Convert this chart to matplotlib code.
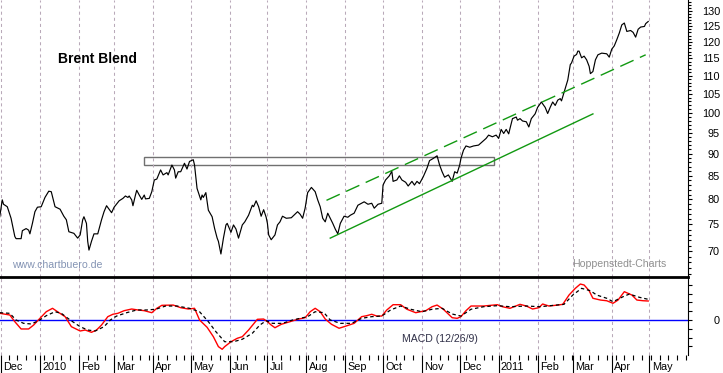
import pandas as pd
import matplotlib
matplotlib.use("Agg")
import matplotlib.pyplot as plt
import matplotlib.dates as mdates
from matplotlib.patches import Rectangle
from matplotlib.ticker import FixedLocator, NullFormatter, FuncFormatter
from matplotlib.transforms import ScaledTranslation

plt.rcParams['font.family'] = ['Liberation Sans', 'DejaVu Sans']
plt.rcParams['lines.scale_dashes'] = False

# Brent price
price_dates = [
    "2009-11-30", "2009-12-02", "2009-12-03", "2009-12-06", "2009-12-09", "2009-12-12", "2009-12-13",
    "2009-12-17", "2009-12-18", "2009-12-21", "2009-12-23", "2009-12-24", "2009-12-26", "2009-12-28",
    "2009-12-30", "2010-01-02", "2010-01-05", "2010-01-08", "2010-01-10", "2010-01-13", "2010-01-17",
    "2010-01-20", "2010-01-22", "2010-01-24", "2010-01-28", "2010-01-31", "2010-02-02", "2010-02-04",
    "2010-02-05", "2010-02-07", "2010-02-08", "2010-02-09", "2010-02-11", "2010-02-13", "2010-02-16",
    "2010-02-19", "2010-02-21", "2010-02-23", "2010-02-25", "2010-02-27", "2010-03-01", "2010-03-05",
    "2010-03-08", "2010-03-10", "2010-03-12", "2010-03-13", "2010-03-15", "2010-03-16", "2010-03-18",
    "2010-03-19", "2010-03-21", "2010-03-23", "2010-03-25", "2010-03-26", "2010-03-29", "2010-03-31",
    "2010-04-02", "2010-04-04", "2010-04-07", "2010-04-09", "2010-04-12", "2010-04-13", "2010-04-16",
    "2010-04-18", "2010-04-19", "2010-04-21", "2010-04-23", "2010-04-26", "2010-04-28", "2010-04-30",
    "2010-05-03", "2010-05-04", "2010-05-06", "2010-05-09", "2010-05-10", "2010-05-11", "2010-05-13",
    "2010-05-15", "2010-05-18", "2010-05-20", "2010-05-22", "2010-05-23", "2010-05-25", "2010-05-27",
    "2010-05-29", "2010-05-30", "2010-06-02", "2010-06-04", "2010-06-06", "2010-06-08", "2010-06-11",
    "2010-06-13", "2010-06-16", "2010-06-19", "2010-06-20", "2010-06-22", "2010-06-24", "2010-06-26",
    "2010-06-28", "2010-06-30", "2010-07-01", "2010-07-02", "2010-07-04", "2010-07-07", "2010-07-09",
    "2010-07-11", "2010-07-13", "2010-07-16", "2010-07-20", "2010-07-23", "2010-07-25", "2010-07-27",
    "2010-07-29", "2010-07-31", "2010-08-02", "2010-08-05", "2010-08-08", "2010-08-10", "2010-08-12",
    "2010-08-14", "2010-08-16", "2010-08-18", "2010-08-20", "2010-08-22", "2010-08-24", "2010-08-26",
    "2010-08-28", "2010-08-31", "2010-09-03", "2010-09-05", "2010-09-08", "2010-09-11", "2010-09-16",
    "2010-09-19", "2010-09-22", "2010-09-24", "2010-09-27", "2010-09-30", "2010-10-01", "2010-10-03",
    "2010-10-06", "2010-10-08", "2010-10-09", "2010-10-12", "2010-10-14", "2010-10-16", "2010-10-19",
    "2010-10-21", "2010-10-24", "2010-10-26", "2010-10-28", "2010-10-30", "2010-11-02", "2010-11-05",
    "2010-11-07", "2010-11-10", "2010-11-13", "2010-11-15", "2010-11-17", "2010-11-19", "2010-11-22",
    "2010-11-25", "2010-11-27", "2010-11-29", "2010-12-01", "2010-12-02", "2010-12-04", "2010-12-06",
    "2010-12-09", "2010-12-12", "2010-12-16", "2010-12-19", "2010-12-22", "2010-12-24", "2010-12-27",
    "2010-12-30", "2011-01-01", "2011-01-03", "2011-01-05", "2011-01-07", "2011-01-09", "2011-01-10",
    "2011-01-12", "2011-01-15", "2011-01-16", "2011-01-18", "2011-01-20", "2011-01-23", "2011-01-25",
    "2011-01-27", "2011-01-30", "2011-02-01", "2011-02-04", "2011-02-07", "2011-02-09", "2011-02-11",
    "2011-02-13", "2011-02-15", "2011-02-17", "2011-02-19", "2011-02-20", "2011-02-21", "2011-02-23",
    "2011-02-25", "2011-02-27", "2011-02-28", "2011-03-02", "2011-03-04", "2011-03-05", "2011-03-06",
    "2011-03-08", "2011-03-10", "2011-03-12", "2011-03-14", "2011-03-15", "2011-03-17", "2011-03-19",
    "2011-03-21", "2011-03-24", "2011-03-28", "2011-03-30", "2011-04-01", "2011-04-03", "2011-04-05",
    "2011-04-07", "2011-04-09", "2011-04-11", "2011-04-13", "2011-04-16", "2011-04-18", "2011-04-20",
    "2011-04-22", "2011-04-24", "2011-04-27", "2011-04-28", "2011-04-30",
]
price_values = [
    76.5, 79.9, 79.0, 78.5, 76.2, 72.7, 72.3,
    72.3, 73.8, 74.2, 73.9, 73.2, 75.2, 77.5,
    78.4, 78.5, 80.4, 81.7, 81.6, 78.5, 78.0,
    76.6, 75.9, 73.6, 73.3, 72.4, 73.0, 75.9,
    76.5, 75.2, 71.8, 70.2, 71.8, 73.2, 73.2,
    75.9, 77.5, 78.7, 78.0, 77.3, 78.4, 79.7,
    80.2, 80.7, 80.4, 80.7, 79.9, 78.7, 80.9,
    81.9, 80.9, 80.0, 80.9, 80.1, 80.2, 81.6,
    84.1, 84.3, 86.3, 85.2, 85.7, 85.2, 87.4,
    86.3, 84.5, 85.9, 85.9, 87.8, 86.5, 88.2,
    88.6, 87.4, 82.3, 79.9, 80.9, 80.4, 81.4,
    77.8, 76.5, 74.2, 72.4, 71.8, 69.5, 72.4,
    74.9, 75.2, 73.5, 74.9, 74.1, 72.4, 74.9,
    75.5, 76.8, 78.8, 78.5, 79.7, 78.5, 76.6,
    77.9, 76.4, 75.2, 73.0, 72.1, 73.0, 74.9,
    75.5, 76.6, 76.2, 76.3, 77.0, 77.5, 77.0,
    76.2, 78.2, 81.4, 82.5, 81.6, 79.9, 78.5,
    76.2, 75.5, 77.2, 76.2, 75.2, 74.1, 73.2,
    75.2, 76.6, 76.4, 76.8, 77.2, 78.8, 79.5,
    79.0, 79.2, 78.2, 79.0, 79.2, 83.0, 84.1,
    85.0, 86.0, 83.8, 84.1, 85.0, 84.1, 83.6,
    82.8, 83.8, 83.0, 83.8, 83.3, 84.8, 86.7,
    88.4, 88.9, 89.5, 87.4, 85.9, 84.7, 85.2,
    83.8, 85.9, 85.6, 87.4, 88.9, 90.8, 91.8,
    91.5, 91.8, 92.0, 92.8, 93.6, 94.4, 94.0,
    94.4, 93.6, 95.8, 94.8, 95.8, 94.7, 96.0,
    98.5, 98.9, 98.1, 98.5, 97.9, 97.7, 96.4,
    98.5, 99.7, 101.4, 102.8, 101.4, 99.8, 101.4,
    102.8, 101.9, 103.3, 103.7, 103.1, 104.2, 106.5,
    108.8, 113.2, 113.7, 115.7, 116.2, 117.2, 117.2,
    115.2, 115.7, 114.6, 112.7, 110.6, 111.2, 114.6,
    116.1, 116.6, 116.4, 115.4, 117.8, 118.8, 120.7,
    122.8, 125.4, 126.0, 123.3, 123.6, 123.0, 121.5,
    124.0, 124.7, 124.9, 125.8, 126.5,
]

# MACD (12/26/9) line and signal line
macd_dates = [
    "2009-11-30", "2009-12-08", "2009-12-12", "2009-12-17", "2009-12-23", "2009-12-27", "2010-01-01",
    "2010-01-06", "2010-01-11", "2010-01-15", "2010-01-21", "2010-01-26", "2010-02-02", "2010-02-06",
    "2010-02-11", "2010-02-15", "2010-02-19", "2010-02-24", "2010-02-28", "2010-03-04", "2010-03-09",
    "2010-03-15", "2010-03-20", "2010-03-25", "2010-03-31", "2010-04-04", "2010-04-08", "2010-04-17",
    "2010-04-23", "2010-04-29", "2010-05-04", "2010-05-08", "2010-05-14", "2010-05-19", "2010-05-23",
    "2010-05-26", "2010-05-28", "2010-06-02", "2010-06-07", "2010-06-11", "2010-06-16", "2010-06-23",
    "2010-06-28", "2010-07-01", "2010-07-04", "2010-07-07", "2010-07-12", "2010-07-19", "2010-07-25",
    "2010-07-31", "2010-08-04", "2010-08-08", "2010-08-12", "2010-08-16", "2010-08-21", "2010-08-27",
    "2010-08-31", "2010-09-08", "2010-09-14", "2010-09-18", "2010-09-22", "2010-09-26", "2010-09-30",
    "2010-10-04", "2010-10-09", "2010-10-15", "2010-10-20", "2010-10-27", "2010-11-04", "2010-11-09",
    "2010-11-13", "2010-11-18", "2010-11-25", "2010-11-29", "2010-12-02", "2010-12-06", "2010-12-10",
    "2010-12-20", "2010-12-31", "2011-01-04", "2011-01-10", "2011-01-18", "2011-01-23", "2011-01-28",
    "2011-02-02", "2011-02-05", "2011-02-10", "2011-02-17", "2011-02-21", "2011-02-26", "2011-03-03",
    "2011-03-07", "2011-03-10", "2011-03-14", "2011-03-17", "2011-03-23", "2011-03-28", "2011-04-02",
    "2011-04-06", "2011-04-11", "2011-04-17", "2011-04-21", "2011-04-26", "2011-04-30",
]
macd_values = [
    0.76, 0.57, -0.19, -1.02, -1.02, -0.57, 0.19,
    0.94, 1.33, 0.94, 0.38, -0.76, -1.25, -1.14,
    -1.40, -1.14, -0.57, 0.38, 0.65, 0.76, 1.06,
    1.25, 1.14, 1.06, 0.83, 1.33, 1.67, 1.70,
    1.40, 1.25, 1.33, 0.00, -0.83, -1.90, -3.03,
    -3.33, -3.03, -2.47, -2.08, -1.90, -1.14, 0.08,
    0.11, -0.19, -0.57, -0.88, -0.49, -0.19, 0.08,
    0.26, 0.94, 1.33, 0.94, 0.11, -0.49, -0.94,
    -0.76, -0.38, 0.38, 0.49, 0.65, 0.45, 0.45,
    1.14, 1.74, 1.74, 1.22, 0.83, 1.06, 1.51,
    1.70, 1.22, 0.26, 0.19, 0.38, 1.06, 1.59,
    1.59, 1.74, 1.51, 1.33, 1.78, 1.59, 1.25,
    1.40, 1.82, 1.59, 1.70, 1.78, 2.84, 3.60,
    4.09, 3.98, 3.33, 2.47, 2.27, 2.19, 1.90,
    2.27, 3.22, 2.84, 2.27, 2.19, 2.16,
]
signal_dates = [
    "2009-11-30", "2009-12-08", "2009-12-13", "2009-12-19", "2009-12-25", "2009-12-31", "2010-01-06",
    "2010-01-13", "2010-01-18", "2010-01-25", "2010-02-02", "2010-02-08", "2010-02-14", "2010-02-21",
    "2010-02-26", "2010-03-03", "2010-03-11", "2010-03-19", "2010-03-27", "2010-04-03", "2010-04-11",
    "2010-04-20", "2010-04-30", "2010-05-08", "2010-05-15", "2010-05-21", "2010-05-28", "2010-06-04",
    "2010-06-11", "2010-06-19", "2010-06-25", "2010-06-30", "2010-07-05", "2010-07-13", "2010-07-21",
    "2010-08-02", "2010-08-08", "2010-08-15", "2010-08-20", "2010-08-28", "2010-09-06", "2010-09-14",
    "2010-09-22", "2010-09-30", "2010-10-07", "2010-10-15", "2010-10-23", "2010-11-01", "2010-11-09",
    "2010-11-17", "2010-11-25", "2010-12-02", "2010-12-10", "2010-12-20", "2010-12-31", "2011-01-10",
    "2011-01-23", "2011-02-03", "2011-02-14", "2011-02-22", "2011-03-01", "2011-03-08", "2011-03-15",
    "2011-03-20", "2011-03-28", "2011-04-02", "2011-04-10", "2011-04-15", "2011-04-23", "2011-04-30",
]
signal_values = [
    0.83, 0.76, 0.00, -0.38, -0.45, -0.08, 0.49,
    0.94, 0.76, 0.00, -0.76, -1.14, -1.25, -0.76,
    0.00, 0.45, 0.83, 1.14, 1.14, 1.22, 1.59,
    1.59, 1.33, 0.94, -0.19, -1.33, -2.47, -2.47,
    -2.19, -1.51, -0.57, -0.08, -0.38, -0.38, 0.00,
    0.38, 0.94, 0.83, 0.00, -0.38, -0.38, 0.19,
    0.38, 0.45, 1.14, 1.59, 1.22, 0.94, 1.22,
    1.33, 0.68, 0.45, 1.22, 1.51, 1.63, 1.51,
    1.59, 1.51, 1.67, 1.78, 2.84, 3.60, 3.33,
    2.84, 2.47, 2.08, 2.65, 2.95, 2.58, 2.35,
]

# trend channel and resistance box drawn on the chart
channel_low_dates = ["2010-08-20", "2011-03-17"]
channel_low_values = [72.4, 99.7]
channel_high_dates = ["2010-08-17", "2011-04-28"]
channel_high_values = [79.8, 116.1]
box_dates = ["2010-03-25", "2010-12-28"]
box_values = [87.5, 89.2]

price_ticks = [70, 75, 80, 85, 90, 95, 100, 105, 110, 115, 120, 125, 130]
month_names = {2: "Feb", 3: "Mar", 4: "Apr", 5: "May", 6: "Jun", 7: "Jul",
               8: "Aug", 9: "Sep", 10: "Oct", 11: "Nov", 12: "Dec"}

W, H = 723, 373
fig = plt.figure(figsize=(W / 100, H / 100), dpi=100)
ax = fig.add_axes([0, 96 / H, 688 / W, 277 / H])
ax2 = fig.add_axes([0, 18 / H, 688 / W, 78 / H])

x0 = pd.Timestamp("2009-11-30 05:00")
x1 = pd.Timestamp("2011-05-31 16:00")
grid_color = '#b9a9b9'
green = '#119911'
tick_font = 7.8

# --- price panel ---
ax.plot(pd.to_datetime(price_dates), price_values, color='black', lw=0.85)
ax.plot(pd.to_datetime(channel_low_dates), channel_low_values, color=green, lw=1.0)
ax.plot(pd.to_datetime(channel_high_dates), channel_high_values, color=green, lw=1.0,
        linestyle=(0, (10.5, 5.0)))
bx = mdates.date2num(pd.to_datetime(box_dates))
ax.add_patch(Rectangle((bx[0], box_values[0]), bx[1] - bx[0], box_values[1] - box_values[0],
                       fill=False, edgecolor='#707070', lw=1.0))

ax.set_yscale('log')
ax.set_ylim(65.5, 133.7)
ax.set_xlim(x0, x1)
ax.yaxis.tick_right()
ax.yaxis.set_major_locator(FixedLocator(price_ticks))
ax.yaxis.set_major_formatter(FuncFormatter(lambda v, p: f"{v:.0f}"))
ax.yaxis.set_minor_locator(FixedLocator(list(range(66, 134))))
ax.yaxis.set_minor_formatter(NullFormatter())
ax.tick_params(axis='y', which='major', length=3.2, width=0.8, pad=19.8, labelsize=tick_font)
ax.tick_params(axis='y', which='minor', length=2.0, width=0.8)
ax.xaxis.set_major_locator(mdates.MonthLocator())
ax.tick_params(axis='x', which='both', length=0, labelbottom=False)
ax.grid(axis='x', color=grid_color, lw=0.75, linestyle=(0, (2.2, 2.2)))
for s in ['left', 'top', 'bottom']:
    ax.spines[s].set_visible(False)
ax.spines['right'].set_linewidth(0.8)
for lab in ax.get_yticklabels():
    lab.set_ha('right')

# --- MACD panel ---
ax2.axhline(0, color='#0000ff', lw=1.0)
ax2.plot(pd.to_datetime(macd_dates), macd_values, color='#ff0000', lw=1.0)
ax2.plot(pd.to_datetime(signal_dates), signal_values, color='black', lw=0.9,
         linestyle=(0, (2.5, 2.0)))
ax2.set_ylim(-3.98, 4.89)
ax2.set_xlim(x0, x1)
ax2.yaxis.tick_right()
ax2.yaxis.set_major_locator(FixedLocator([0]))
ax2.yaxis.set_minor_locator(FixedLocator([-3, -2, -1, 1, 2, 3, 4]))
ax2.yaxis.set_minor_formatter(NullFormatter())
ax2.tick_params(axis='y', which='major', length=3.2, width=0.8, pad=19.8, labelsize=tick_font)
ax2.tick_params(axis='y', which='minor', length=3.2, width=0.8)
for lab in ax2.get_yticklabels():
    lab.set_ha('right')

ax2.xaxis.set_major_locator(mdates.MonthLocator())
ax2.xaxis.set_minor_locator(mdates.WeekdayLocator(byweekday=mdates.MO))
ax2.xaxis.set_major_formatter(FuncFormatter(
    lambda v, p: str(mdates.num2date(v).year) if mdates.num2date(v).month == 1
    else month_names[mdates.num2date(v).month]))
ax2.tick_params(axis='x', which='major', length=14, width=0.8, pad=-9.0, labelsize=tick_font)
ax2.tick_params(axis='x', which='minor', length=3.6, width=0.8)
ax2.grid(axis='x', which='major', color=grid_color, lw=0.75, linestyle=(0, (2.2, 2.2)))
shift = ScaledTranslation(1.6 / 72, 0, fig.dpi_scale_trans)
for lab in ax2.get_xticklabels():
    lab.set_ha('left')
    lab.set_transform(lab.get_transform() + shift)
for s in ['left', 'bottom']:
    ax2.spines[s].set_visible(False)
ax2.spines['top'].set_linewidth(2.0)
ax2.spines['right'].set_linewidth(0.8)

# --- texts ---
fig.text(57.7 / W, 1 - 59 / H, "Brent Blend", fontsize=10, fontweight='bold', va='center')
fig.text(11.7 / W, 1 - 265.5 / H, "www.chartbuero.de", fontsize=7.6, color='#8494b4', va='center')
fig.text(571.7 / W, 1 - 264 / H, "Hoppenstedt-Charts", fontsize=7.6, color='#909090', va='center')
fig.text(401.7 / W, 1 - 339.3 / H, "MACD (12/26/9)", fontsize=7.6, color='#303048', va='center')

fig.savefig("out.png", dpi=100)
